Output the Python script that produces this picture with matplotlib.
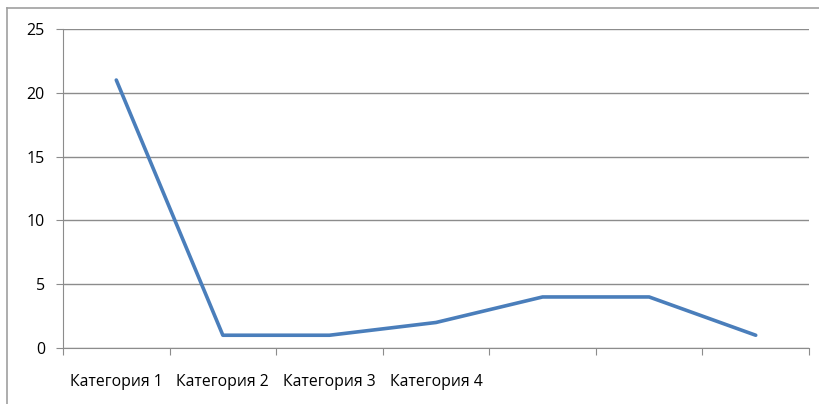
import matplotlib
matplotlib.use('Agg')
from matplotlib import pyplot as plt
from matplotlib.lines import Line2D

categories = ['Категория 1', 'Категория 2', 'Категория 3', 'Категория 4', '', '', '']
values = [21, 1, 1, 2, 4, 4, 1]
y_ticks = [0, 5, 10, 15, 20, 25]

plt.rcParams['font.family'] = ['Open Sans', 'DejaVu Sans']

W, H = 820, 404
fig = plt.figure(figsize=(W / 100, H / 100), dpi=100)
ax = fig.add_axes([63 / W, 1 - 348 / H, (809 - 63) / W, (348 - 29) / H])

# outer chart frame (left and top visible, rest runs off the image)
grey = '#a0a0a0'
fig.add_artist(Line2D([7.5 / W, 7.5 / W], [0, 1 - 8 / H], color=grey, lw=1.2))
fig.add_artist(Line2D([7.5 / W, 1], [1 - 8 / H, 1 - 8 / H], color=grey, lw=1.2))

x = list(range(len(values)))
ax.plot(x, values, color='#4a7ebb', lw=2.6, solid_capstyle='round', solid_joinstyle='round', zorder=3)

ax.set_xlim(-0.5, len(values) - 0.5)
ax.set_ylim(0, 25)
ax.set_yticks(y_ticks)
ax.yaxis.grid(True, color='#8c8c8c', lw=1.0)
ax.set_axisbelow(True)

# category boundaries as major ticks, labels on minor ticks
ax.set_xticks([i - 0.5 for i in range(len(values) + 1)])
ax.set_xticklabels([])
ax.set_xticks(x, minor=True)
ax.set_xticklabels(categories, minor=True)
ax.tick_params(axis='x', which='minor', length=0, pad=19, labelsize=11.3)
ax.tick_params(axis='x', which='major', length=5, color='#8c8c8c', direction='out')
ax.tick_params(axis='y', length=5, color='#8c8c8c', direction='out', pad=8, labelsize=11.5)

for side in ['top', 'right']:
    ax.spines[side].set_visible(False)
ax.spines['left'].set_color('#8c8c8c')
ax.spines['bottom'].set_color('#8c8c8c')

fig.savefig('out.png', dpi=100)
